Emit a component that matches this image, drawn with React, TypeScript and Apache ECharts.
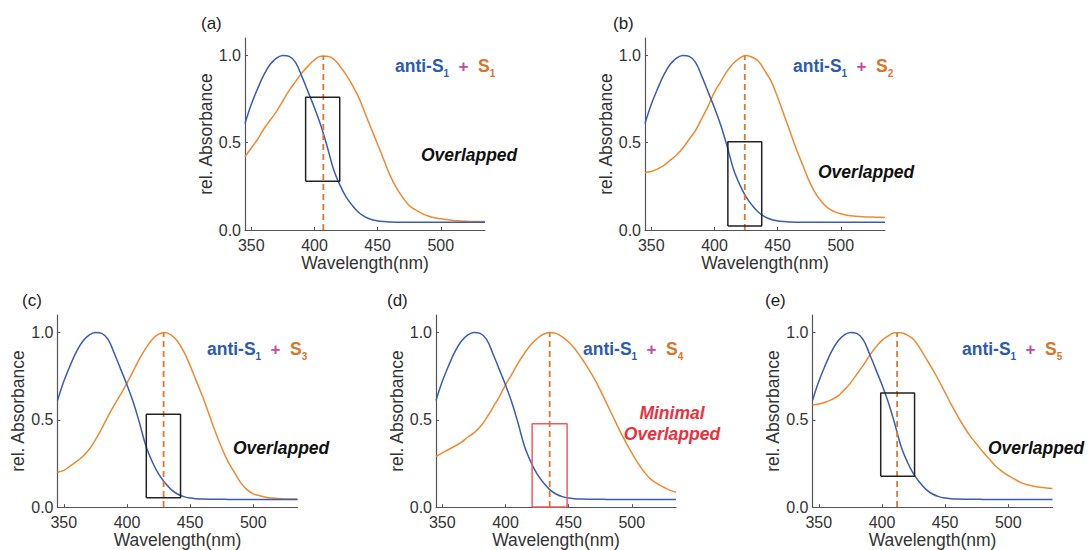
import React, { useEffect, useRef } from 'react';
import * as echarts from 'echarts';

const wavelengths = [345, 350, 355, 360, 365, 370, 375, 380, 385, 390, 395, 400, 405, 410, 415, 420, 425, 430, 435, 440, 445, 450, 455, 460, 465, 470, 475, 480, 485, 490, 495, 500, 505, 510, 515, 520, 525, 530, 535];

const antiS1 = [0.61, 0.72, 0.81, 0.89, 0.95, 0.985, 1.0, 0.995, 0.96, 0.88, 0.79, 0.70, 0.60, 0.48, 0.35, 0.26, 0.19, 0.14, 0.10, 0.075, 0.06, 0.052, 0.048, 0.046, 0.045, 0.045, 0.045, 0.044, 0.044, 0.044, 0.044, 0.044, 0.044, 0.044, 0.044, 0.044, 0.044, 0.044, 0.044];

const s1 = [0.42, 0.47, 0.52, 0.58, 0.63, 0.68, 0.74, 0.80, 0.85, 0.90, 0.94, 0.975, 0.995, 0.995, 0.98, 0.94, 0.89, 0.83, 0.76, 0.67, 0.58, 0.49, 0.40, 0.31, 0.24, 0.185, 0.14, 0.115, 0.095, 0.08, 0.07, 0.064, 0.06, 0.055, 0.052, 0.05, 0.049, 0.048, 0.048];

const s2 = [0.33, 0.335, 0.35, 0.37, 0.40, 0.43, 0.47, 0.52, 0.57, 0.64, 0.71, 0.79, 0.85, 0.91, 0.955, 0.985, 1.0, 0.99, 0.965, 0.91, 0.85, 0.76, 0.66, 0.56, 0.46, 0.37, 0.28, 0.21, 0.16, 0.125, 0.105, 0.093, 0.085, 0.08, 0.077, 0.075, 0.074, 0.073, 0.072];

const s3 = [0.20, 0.21, 0.235, 0.26, 0.29, 0.33, 0.385, 0.45, 0.52, 0.585, 0.645, 0.71, 0.78, 0.85, 0.91, 0.96, 0.99, 1.0, 0.985, 0.95, 0.89, 0.81, 0.72, 0.63, 0.53, 0.43, 0.34, 0.26, 0.2, 0.14, 0.1, 0.076, 0.065, 0.057, 0.052, 0.049, 0.047, 0.046, 0.046];

const s4 = [0.29, 0.31, 0.33, 0.35, 0.37, 0.40, 0.425, 0.46, 0.51, 0.57, 0.63, 0.70, 0.76, 0.825, 0.88, 0.93, 0.965, 0.99, 1.0, 0.995, 0.975, 0.945, 0.905, 0.855, 0.8, 0.74, 0.67, 0.595, 0.52, 0.445, 0.375, 0.31, 0.25, 0.2, 0.16, 0.135, 0.115, 0.097, 0.085];

const s5 = [0.585, 0.59, 0.60, 0.615, 0.635, 0.67, 0.71, 0.76, 0.81, 0.865, 0.915, 0.955, 0.98, 0.998, 0.998, 0.985, 0.96, 0.91, 0.85, 0.79, 0.725, 0.655, 0.585, 0.52, 0.46, 0.405, 0.36, 0.315, 0.275, 0.235, 0.205, 0.18, 0.16, 0.14, 0.128, 0.12, 0.114, 0.11, 0.107];

const acceptors = [s1, s2, s3, s4, s5];
const acceptorSubs = ['1', '2', '3', '4', '5'];
const panelLabels = ['(a)', '(b)', '(c)', '(d)', '(e)'];
const peakWavelengths = [407, 424, 429, 435, 412];
const boxX = [[393, 420], [410.6, 437.4], [415.3, 442.4], [421.1, 448.8], [399, 425.8]];
const boxY = [[0.28, 0.76], [0.023, 0.505], [0.053, 0.532], [0.0, 0.477], [0.176, 0.653]];
const xTicks = [350, 400, 450, 500];
const yTicks = [0, 0.5, 1.0];

// layout (pixels)
const grids = [
  { left: 245, top: 38, width: 240, height: 192 },
  { left: 645, top: 38, width: 240, height: 192 },
  { left: 57.5, top: 315, width: 240, height: 193.5 },
  { left: 436, top: 315, width: 240, height: 193.5 },
  { left: 812.5, top: 315, width: 240, height: 193.5 },
];
const labelPos = [[201, 23], [613, 23], [22, 300], [387, 300], [765, 300]];
const legendPos = [[395, 66], [793, 66], [207, 349], [583, 349], [962, 349]];
const notePos = [[421, 155], [818, 172], [233, 448], null, [988, 448]];

const FONT = '"Liberation Sans", Arial, sans-serif';
const BLUE = '#3a5db2';
const ORANGE = '#f08a30';
const AXIS = '#555';

export default function App() {
  const ref = useRef<HTMLDivElement>(null);
  useEffect(() => {
    if (!ref.current) return;
    const chart = echarts.init(ref.current, undefined, { renderer: 'svg' });
    const xAxis: any[] = [];
    const yAxis: any[] = [];
    const series: any[] = [];
    const graphic: any[] = [];
    grids.forEach((g, i) => {
      xAxis.push({
        gridIndex: i, type: 'value', min: 345, max: 535,
        axisLine: { show: true, lineStyle: { color: AXIS, width: 1.2 } },
        axisTick: { show: true, inside: true, length: 3, customValues: xTicks, lineStyle: { color: AXIS } },
        axisLabel: { customValues: xTicks, fontSize: 16, color: '#333', margin: 7, fontFamily: FONT },
        splitLine: { show: false },
        name: 'Wavelength(nm)', nameLocation: 'middle', nameGap: 21,
        nameTextStyle: { fontSize: 17.5, color: '#333', fontFamily: FONT },
      });
      yAxis.push({
        gridIndex: i, type: 'value', min: 0, max: 1.1,
        axisLine: { show: true, lineStyle: { color: AXIS, width: 1.2 } },
        axisTick: { show: true, inside: true, length: 3, customValues: yTicks, lineStyle: { color: AXIS } },
        axisLabel: { customValues: yTicks, fontSize: 16, color: '#333', margin: 4, fontFamily: FONT, formatter: (v: number) => v.toFixed(1) },
        splitLine: { show: false },
        name: 'rel. Absorbance', nameLocation: 'middle', nameGap: 27,
        nameTextStyle: { fontSize: 17.5, color: '#333', fontFamily: FONT },
      });
      series.push({
        type: 'line', xAxisIndex: i, yAxisIndex: i, showSymbol: false, smooth: 0.4,
        data: wavelengths.map((w, k) => [w, antiS1[k]]),
        lineStyle: { color: BLUE, width: 1.5 }, z: 3,
      });
      series.push({
        type: 'line', xAxisIndex: i, yAxisIndex: i, showSymbol: false, smooth: 0.4,
        data: wavelengths.map((w, k) => [w, acceptors[i][k]]),
        lineStyle: { color: ORANGE, width: 1.5 }, z: 2,
      });
      series.push({
        type: 'line', xAxisIndex: i, yAxisIndex: i, showSymbol: false,
        data: [[peakWavelengths[i], 0], [peakWavelengths[i], 1]],
        lineStyle: { color: '#d9782e', width: 1.8, type: [6, 4] }, z: 4,
      });
      const [x0, x1] = boxX[i];
      const [y0, y1] = boxY[i];
      series.push({
        type: 'line', xAxisIndex: i, yAxisIndex: i, showSymbol: false, clip: false,
        data: [[x0, y0], [x1, y0], [x1, y1], [x0, y1], [x0, y0]],
        lineStyle: { color: i === 3 ? '#f05a62' : '#222', width: 1.5 }, z: 5,
      });
      graphic.push({
        type: 'text', x: labelPos[i][0], y: labelPos[i][1],
        style: { text: panelLabels[i], fontSize: 17, fill: '#222', fontFamily: FONT, verticalAlign: 'middle', align: 'left' },
      });
      graphic.push({
        type: 'text', x: legendPos[i][0], y: legendPos[i][1],
        style: {
          text: '{a|anti-S}{sa|1}{p|  +  }{o|S}{so|' + acceptorSubs[i] + '}',
          verticalAlign: 'middle', align: 'left', fontFamily: FONT,
          rich: {
            a: { fill: '#2d5bb0', fontWeight: 'bold', fontSize: 17.5, lineHeight: 24, fontFamily: FONT },
            sa: { fill: '#2d5bb0', fontWeight: 'bold', fontSize: 10, lineHeight: 12, verticalAlign: 'bottom', fontFamily: FONT },
            p: { fill: '#c8489e', fontWeight: 'bold', fontSize: 17, lineHeight: 24, fontFamily: FONT },
            o: { fill: '#d6762b', fontWeight: 'bold', fontSize: 17.5, lineHeight: 24, fontFamily: FONT },
            so: { fill: '#d6762b', fontWeight: 'bold', fontSize: 10, lineHeight: 12, verticalAlign: 'bottom', fontFamily: FONT },
          },
        },
      });
      const np = notePos[i];
      if (np) {
        graphic.push({
          type: 'text', x: np[0], y: np[1],
          style: { text: 'Overlapped', fontSize: 17.5, fontWeight: 'bold', fontStyle: 'italic', fill: '#111', fontFamily: FONT, verticalAlign: 'middle', align: 'left' },
        });
      } else {
        graphic.push({
          type: 'text', x: 672, y: 423,
          style: { text: 'Minimal\nOverlapped', fontSize: 17.5, lineHeight: 21, fontWeight: 'bold', fontStyle: 'italic', fill: '#e8323e', fontFamily: FONT, verticalAlign: 'middle', align: 'center' },
        });
      }
    });
    chart.setOption({
      animation: false,
      backgroundColor: '#fff',
      textStyle: { fontFamily: FONT },
      grid: grids.map((g) => ({ ...g })),
      xAxis, yAxis, series, graphic,
    });
    return () => chart.dispose();
  }, []);
  return <div ref={ref} style={{ position: 'absolute', left: 0, top: 0, width: 1089, height: 550 }} />;
}
